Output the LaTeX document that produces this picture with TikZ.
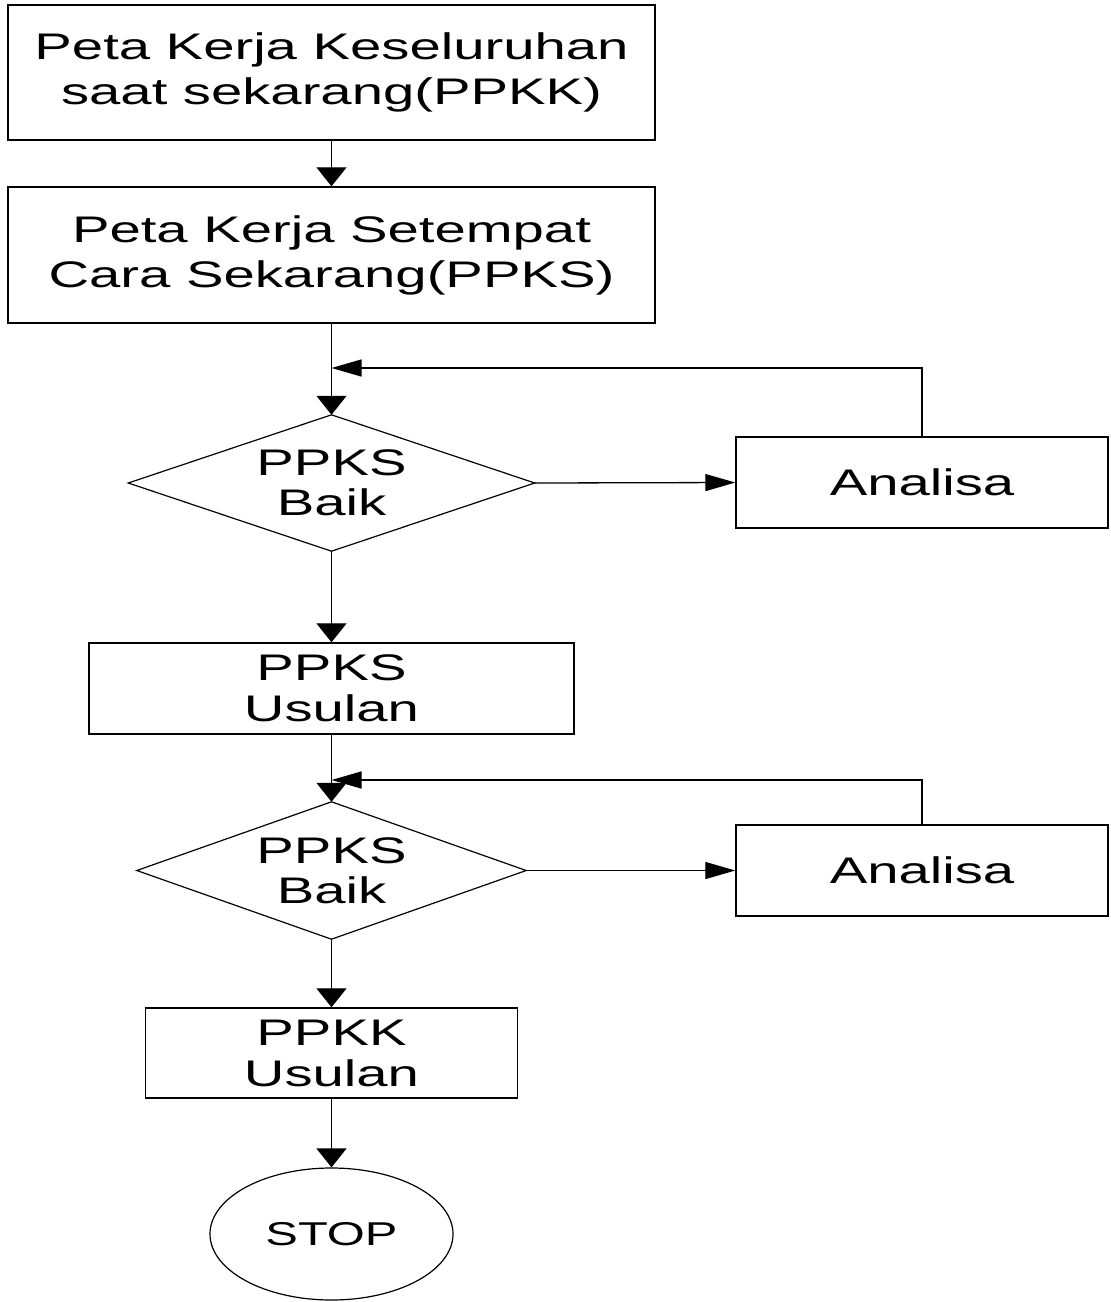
\documentclass[tikz,border=0pt]{standalone}
\usepackage{fontspec}
\setmainfont{Liberation Sans}
\usetikzlibrary{arrows.meta,shapes.geometric}
\newcommand\sx[1]{\scalebox{1.52}[1]{#1}}
\tikzset{
  box/.style={draw=black, line width=1.4pt, rectangle, inner sep=0pt, align=center,
    font=\fontsize{37}{45}\selectfont},
  sbox/.style={box, font=\fontsize{37}{41}\selectfont},
  dshape/.style={rectangle, inner sep=0pt, align=center, font=\fontsize{37}{40}\selectfont},
  dline/.style={draw=black, line width=1.2pt},
  conn/.style={draw=black, line width=1.3pt},
  darrow/.style={conn, -{Triangle[length=19pt,width=30pt]}},
  harrow/.style={conn, -{Triangle[length=30pt,width=17pt]}},
}
\begin{document}
\begin{tikzpicture}[x=1pt,y=-1pt]
\useasboundingbox (0,0) rectangle (1111,1302);
\fill[white] (0,0) rectangle (1111,1302);

\node[box, minimum width=647pt, minimum height=135pt] (b1) at (331.5,72.5)
  {\sx{Peta Kerja Keseluruhan}\\\sx{saat sekarang(PPKK)}};
\node[box, minimum width=647pt, minimum height=136pt] (b2) at (331.5,255)
  {\sx{Peta Kerja Setempat}\\\sx{Cara Sekarang(PPKS)}};

\node[dshape, minimum width=406pt, minimum height=136pt] (d1) at (331.5,483)
  {\sx{PPKS}\\\sx{Baik}};
\draw[dline] (d1.north) -- (d1.east) -- (d1.south) -- (d1.west) -- cycle;

\node[sbox, minimum width=372pt, minimum height=91pt] (a1) at (922,482.5) {\sx{Analisa}};

\node[sbox, minimum width=485pt, minimum height=91pt] (b3) at (331.5,688.5)
  {\sx{PPKS}\\\sx{Usulan}};

\node[dshape, minimum width=389pt, minimum height=137pt] (d2) at (331.5,870.5)
  {\sx{PPKS}\\\sx{Baik}};
\draw[dline] (d2.north) -- (d2.east) -- (d2.south) -- (d2.west) -- cycle;

\node[sbox, minimum width=372pt, minimum height=91pt] (a2) at (922,870.5) {\sx{Analisa}};

\node[sbox, minimum width=372pt, minimum height=90pt] (b4) at (331.5,1053)
  {\sx{PPKK}\\\sx{Usulan}};

\node[draw=black, line width=1.2pt, ellipse, inner sep=0pt, minimum width=243pt,
  minimum height=132pt, font=\fontsize{33}{36}\selectfont] (stop) at (331.5,1234)
  {\scalebox{1.48}[1]{STOP}};

\coordinate (j1) at (331.5,368);
\coordinate (j2) at (331.5,780);

\draw[darrow] (b1.south) -- (b2.north);
\draw[darrow] (b2.south) -- (d1.north);
\draw[harrow] (a1.north) |- (j1);
\draw[harrow] (d1.east) -- (a1.west);
\draw[darrow] (d1.south) -- (b3.north);
\draw[darrow] (b3.south) -- (d2.north);
\draw[harrow] (a2.north) |- (j2);
\draw[harrow] (d2.east) -- (a2.west);
\draw[darrow] (d2.south) -- (b4.north);
\draw[darrow] (b4.south) -- (stop.north);
\end{tikzpicture}
\end{document}
